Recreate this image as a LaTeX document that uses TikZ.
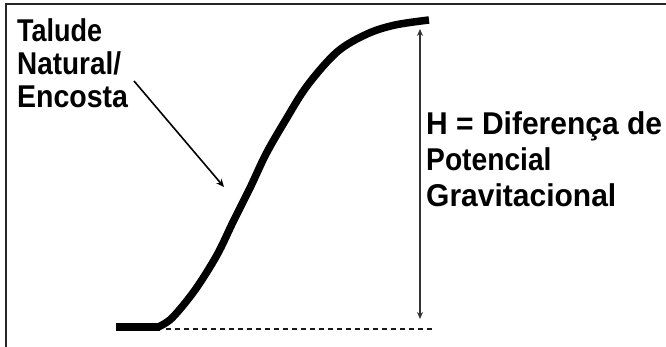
\documentclass[tikz,border=0pt]{standalone}
\usepackage{fontspec}
\setmainfont{Liberation Sans}
\usetikzlibrary{arrows.meta}
\begin{document}
\begin{tikzpicture}[x=1pt,y=-1pt,
  lbl/.style={inner sep=0pt, anchor=base west, font=\fontsize{30}{36}\selectfont\bfseries},
  frame/.style={line width=2.5pt, black!85},
  slope/.style={line width=7.5pt, line cap=butt, line join=round},
  base/.style={line width=2.5pt, dash pattern=on 5pt off 4pt, black!90},
  dim/.style={line width=2pt, black!80, {Stealth[length=7pt,width=6pt]}-{Stealth[length=7pt,width=6pt]}},
  pointer/.style={line width=1.6pt, -{Stealth[length=8pt,width=7pt]}}]
\useasboundingbox (0,0) rectangle (666,347);
% frame
\draw[frame] (5,4) -- (666,4);
\draw[frame] (6,3) -- (6,347);
% slope
\draw[slope] (116,327) -- (160,327);
\draw[slope] plot[smooth, tension=0.55] coordinates {(158,327) (172,318) (195,290) (217,255) (233,222) (250,188) (266,154) (285,121) (307,86) (337,52) (367,34) (395,25) (429,20)};
% base line
\draw[base] (166,329) -- (433,329);
% height arrow
\coordinate (htop) at (420,29);
\coordinate (hbot) at (420,319);
\draw[dim] (htop) -- (hbot);
% labels
\node[lbl] (t1) at (17,42) {\scalebox{0.9}[1.05]{Talude}};
\node[lbl] (t2) at (17,75) {\scalebox{0.93}[1.05]{Natural/}};
\node[lbl] (t3) at (17,108) {\scalebox{0.95}[1.05]{Encosta}};
\node[lbl] (h1) at (426,135) {\scalebox{1}[1.05]{H = Diferença de}};
\node[lbl] (h2) at (426,171) {\scalebox{0.94}[1.05]{Potencial}};
\node[lbl] (h3) at (426,207) {\scalebox{1}[1.05]{Gravitacional}};
% pointer
\coordinate (pstart) at (134,81);
\coordinate (pend) at (224,187);
\draw[pointer] (pstart) -- (pend);
\end{tikzpicture}
\end{document}
